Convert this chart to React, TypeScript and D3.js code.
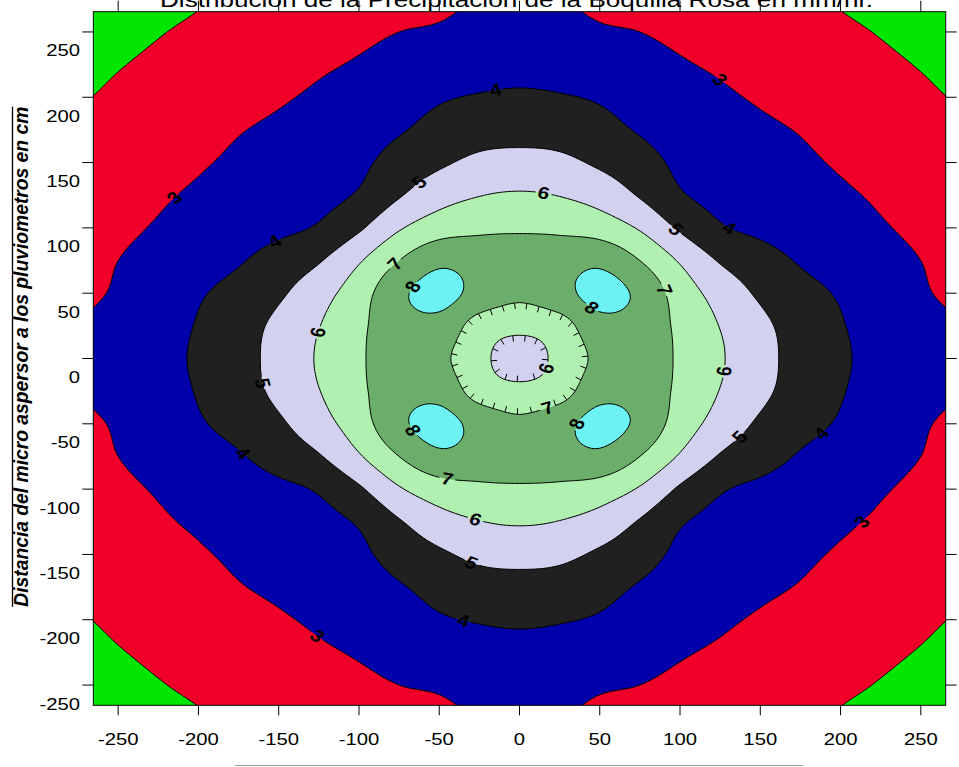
import React, { useMemo } from "react";
import * as d3 from "d3";

// Grid node positions in cm (columns west -> east, rows north -> south)
const gridX = [-275, -250, -225, -200, -175, -150, -125, -100, -75, -50, -25, 0, 25, 50, 75, 100, 125, 150, 175, 200, 225, 250, 275];
const gridY = [275, 250, 225, 200, 175, 150, 125, 100, 75, 50, 25, 0, -25, -50, -75, -100, -125, -150, -175, -200, -225, -250, -275];

// Precipitation (mm/hr) at each grid node, one row per gridY entry
const precip = [
  [1.4, 1.58, 1.77, 1.95, 2.12, 2.23, 2.42, 2.6, 2.75, 2.82, 3.04, 3.12, 3.04, 2.82, 2.75, 2.6, 2.42, 2.23, 2.12, 1.95, 1.77, 1.58, 1.4],
  [1.58, 1.77, 1.96, 2.14, 2.33, 2.46, 2.65, 2.83, 3.0, 3.1, 3.34, 3.42, 3.34, 3.1, 3.0, 2.83, 2.65, 2.46, 2.33, 2.14, 1.96, 1.77, 1.58],
  [1.77, 1.96, 2.15, 2.34, 2.53, 2.72, 2.9, 3.07, 3.3, 3.5, 3.66, 3.72, 3.66, 3.5, 3.3, 3.07, 2.9, 2.72, 2.53, 2.34, 2.15, 1.96, 1.77],
  [1.95, 2.14, 2.34, 2.53, 2.73, 2.92, 3.11, 3.31, 3.63, 3.91, 4.06, 4.13, 4.06, 3.91, 3.63, 3.31, 3.11, 2.92, 2.73, 2.53, 2.34, 2.14, 1.95],
  [2.12, 2.33, 2.53, 2.73, 2.96, 3.14, 3.33, 3.55, 3.92, 4.3, 4.6, 4.68, 4.6, 4.3, 3.92, 3.55, 3.33, 3.14, 2.96, 2.73, 2.53, 2.33, 2.12],
  [2.23, 2.46, 2.72, 2.92, 3.14, 3.35, 3.55, 3.8, 4.4, 4.85, 5.22, 5.3, 5.22, 4.85, 4.4, 3.8, 3.55, 3.35, 3.14, 2.92, 2.72, 2.46, 2.23],
  [2.42, 2.65, 2.9, 3.11, 3.33, 3.55, 3.72, 4.1, 4.92, 5.6, 5.97, 6.1, 5.97, 5.6, 4.92, 4.1, 3.72, 3.55, 3.33, 3.11, 2.9, 2.65, 2.42],
  [2.6, 2.83, 3.07, 3.31, 3.55, 3.8, 4.1, 4.86, 5.9, 6.55, 6.8, 6.87, 6.8, 6.55, 5.9, 4.86, 4.1, 3.8, 3.55, 3.31, 3.07, 2.83, 2.6],
  [2.75, 3.0, 3.3, 3.63, 3.92, 4.4, 4.92, 5.9, 7.0, 7.78, 7.6, 7.5, 7.6, 7.78, 7.0, 5.9, 4.92, 4.4, 3.92, 3.63, 3.3, 3.0, 2.75],
  [2.82, 3.1, 3.5, 3.91, 4.3, 4.85, 5.6, 6.55, 7.78, 8.35, 7.65, 7.2, 7.65, 8.35, 7.78, 6.55, 5.6, 4.85, 4.3, 3.91, 3.5, 3.1, 2.82],
  [3.04, 3.34, 3.66, 4.06, 4.6, 5.22, 5.97, 6.8, 7.6, 7.65, 6.6, 6.35, 6.6, 7.65, 7.6, 6.8, 5.97, 5.22, 4.6, 4.06, 3.66, 3.34, 3.04],
  [3.12, 3.42, 3.72, 4.13, 4.68, 5.3, 6.1, 6.87, 7.5, 7.2, 6.35, 5.3, 6.35, 7.2, 7.5, 6.87, 6.1, 5.3, 4.68, 4.13, 3.72, 3.42, 3.12],
  [3.04, 3.34, 3.66, 4.06, 4.6, 5.22, 5.97, 6.8, 7.6, 7.65, 6.6, 6.35, 6.6, 7.65, 7.6, 6.8, 5.97, 5.22, 4.6, 4.06, 3.66, 3.34, 3.04],
  [2.82, 3.1, 3.5, 3.91, 4.3, 4.85, 5.6, 6.55, 7.78, 8.35, 7.65, 7.2, 7.65, 8.35, 7.78, 6.55, 5.6, 4.85, 4.3, 3.91, 3.5, 3.1, 2.82],
  [2.75, 3.0, 3.3, 3.63, 3.92, 4.4, 4.92, 5.9, 7.0, 7.78, 7.6, 7.5, 7.6, 7.78, 7.0, 5.9, 4.92, 4.4, 3.92, 3.63, 3.3, 3.0, 2.75],
  [2.6, 2.83, 3.07, 3.31, 3.55, 3.8, 4.1, 4.86, 5.9, 6.55, 6.8, 6.87, 6.8, 6.55, 5.9, 4.86, 4.1, 3.8, 3.55, 3.31, 3.07, 2.83, 2.6],
  [2.42, 2.65, 2.9, 3.11, 3.33, 3.55, 3.72, 4.1, 4.92, 5.6, 5.97, 6.1, 5.97, 5.6, 4.92, 4.1, 3.72, 3.55, 3.33, 3.11, 2.9, 2.65, 2.42],
  [2.23, 2.46, 2.72, 2.92, 3.14, 3.35, 3.55, 3.8, 4.4, 4.85, 5.22, 5.3, 5.22, 4.85, 4.4, 3.8, 3.55, 3.35, 3.14, 2.92, 2.72, 2.46, 2.23],
  [2.12, 2.33, 2.53, 2.73, 2.96, 3.14, 3.33, 3.55, 3.92, 4.3, 4.6, 4.68, 4.6, 4.3, 3.92, 3.55, 3.33, 3.14, 2.96, 2.73, 2.53, 2.33, 2.12],
  [1.95, 2.14, 2.34, 2.53, 2.73, 2.92, 3.11, 3.31, 3.63, 3.91, 4.06, 4.13, 4.06, 3.91, 3.63, 3.31, 3.11, 2.92, 2.73, 2.53, 2.34, 2.14, 1.95],
  [1.77, 1.96, 2.15, 2.34, 2.53, 2.72, 2.9, 3.07, 3.3, 3.5, 3.66, 3.72, 3.66, 3.5, 3.3, 3.07, 2.9, 2.72, 2.53, 2.34, 2.15, 1.96, 1.77],
  [1.58, 1.77, 1.96, 2.14, 2.33, 2.46, 2.65, 2.83, 3.0, 3.1, 3.34, 3.42, 3.34, 3.1, 3.0, 2.83, 2.65, 2.46, 2.33, 2.14, 1.96, 1.77, 1.58],
  [1.4, 1.58, 1.77, 1.95, 2.12, 2.23, 2.42, 2.6, 2.75, 2.82, 3.04, 3.12, 3.04, 2.82, 2.75, 2.6, 2.42, 2.23, 2.12, 1.95, 1.77, 1.58, 1.4],
];

// Contour levels (mm/hr)
const contourLevels = [2, 3, 4, 5, 6, 7, 8];

// Contour label anchors: level and approximate location in cm
const labelLevel = [3, 3, 3, 3, 4, 4, 4, 4, 4, 4, 5, 5, 5, 5, 5, 6, 6, 6, 6, 6, 7, 7, 7, 7, 8, 8, 8, 8];
const labelX = [124.9, -214.5, 212.1, -125.5, -14, -152.3, 131.1, -174.1, 187.1, -35.8, -64.5, 96.8, -161, 137.9, -30.8, 13.8, -126.1, 127.2, -26.9, 16.5, -77.7, 90.4, -44.5, 16.5, -66.9, 45, -67.4, 35.6];
const labelY = [213.2, 123.6, -123.6, -212.4, 204, 89.2, 98.4, -73.9, -56.3, -200.2, 136.6, 98.9, -18.8, -60.9, -155, 126.7, 19.5, -8.6, -124.2, -6.9, 72.1, 51.4, -92, -36.7, 56.8, 38.7, -55.3, -50.1];

const axisTicks = [-250, -200, -150, -100, -50, 0, 50, 100, 150, 200, 250];

const titleText = "Distribución de la Precipitación de la Boquilla Rosa en mm/hr.";
const yTitleText = "Distancia del micro aspersor a los pluviometros en cm";

// Styling
const W = 959;
const H = 767;
const PLOT = { left: 93.3, right: 945.7, top: 11.7, bottom: 705.3 };
const DOMAIN: [number, number] = [-265.5, 265.5];
const SX = 1.23; // horizontal stretch of the lettering
const FONT = "'Liberation Sans', Arial, Helvetica, sans-serif";
const belowColor = "#00e600";
const bandColors = ["#f00028", "#0000aa", "#202020", "#d2d2f0", "#b0f0b0", "#6bae6b", "#6cf2f2"];

function catmullRom(p0: number, p1: number, p2: number, p3: number, t: number) {
  return p1 + 0.5 * t * (p2 - p0 + t * (2 * p0 - 5 * p1 + 4 * p2 - p3 + t * (3 * (p1 - p2) + p3 - p0)));
}

export default function App() {
  const xs = d3.scaleLinear().domain(DOMAIN).range([PLOT.left, PLOT.right]);
  const ys = d3.scaleLinear().domain(DOMAIN).range([PLOT.bottom, PLOT.top]);

  const model = useMemo(() => {
    const sub = 10;
    const nx = gridX.length;
    const ny = gridY.length;
    const fw = (nx - 1) * sub + 1;
    const fh = (ny - 1) * sub + 1;
    const clampI = (k: number, n: number) => Math.max(0, Math.min(n - 1, k));
    const sample = (gx: number, gy: number) => {
      const ix = Math.min(Math.floor(gx), nx - 2);
      const iy = Math.min(Math.floor(gy), ny - 2);
      const tx = gx - ix;
      const ty = gy - iy;
      const col: number[] = [];
      for (let m = -1; m <= 2; m++) {
        const row = precip[clampI(iy + m, ny)];
        col.push(catmullRom(row[clampI(ix - 1, nx)], row[ix], row[ix + 1], row[clampI(ix + 2, nx)], tx));
      }
      return catmullRom(col[0], col[1], col[2], col[3], ty);
    };
    const values: number[] = new Array(fw * fh);
    for (let j = 0; j < fh; j++) for (let i = 0; i < fw; i++) values[j * fw + i] = sample(i / sub, j / sub);

    const du = (gridX[1] - gridX[0]) / sub;
    const dv = (gridY[1] - gridY[0]) / sub;
    const toPx = (c: number[]) => [xs(gridX[0] + (c[0] - 0.5) * du), ys(gridY[0] + (c[1] - 0.5) * dv)];

    const bands = d3.contours().size([fw, fh]).thresholds(contourLevels)(values);
    const polys = bands.map((b: any) => b.coordinates.map((poly: number[][][]) => poly.map((ring) => ring.map(toPx))));

    const line = d3.line();
    const paths = polys.map((mp: number[][][][]) =>
      mp.map((poly) => poly.map((ring) => line(ring as any) + "Z").join("")).join("")
    );

    // hachures on closed depressions (holes): short ticks pointing downhill
    const hachures: number[][] = [];
    const spacing = 12.5;
    const tickLen = 6;
    polys.forEach((mp: number[][][][]) => {
      mp.forEach((poly) => {
        poly.slice(1).forEach((ring) => {
          let area = 0;
          for (let i = 0; i < ring.length - 1; i++) area += ring[i][0] * ring[i + 1][1] - ring[i + 1][0] * ring[i][1];
          const sgn = area > 0 ? 1 : -1;
          let acc = spacing / 2;
          for (let i = 0; i < ring.length - 1; i++) {
            const [x0, y0] = ring[i];
            const [x1, y1] = ring[i + 1];
            const len = Math.hypot(x1 - x0, y1 - y0);
            if (len === 0) continue;
            const ux = (x1 - x0) / len;
            const uy = (y1 - y0) / len;
            const nxv = -uy * sgn;
            const nyv = ux * sgn;
            while (acc <= len) {
              const px = x0 + ux * acc;
              const py = y0 + uy * acc;
              hachures.push([px, py, px + nxv * tickLen, py + nyv * tickLen]);
              acc += spacing;
            }
            acc -= len;
          }
        });
      });
    });

    // contour labels snapped onto their line, rotated along it
    const labels = labelLevel.map((lev, k) => {
      const li = contourLevels.indexOf(lev);
      const tx = xs(labelX[k]);
      const ty = ys(labelY[k]);
      let best = { d: Infinity, ring: [] as number[][], i: 0 };
      polys[li].forEach((poly: number[][][]) =>
        poly.forEach((ring) =>
          ring.forEach((p, i) => {
            const d = (p[0] - tx) ** 2 + (p[1] - ty) ** 2;
            if (d < best.d) best = { d, ring, i };
          })
        )
      );
      const r = best.ring;
      const n = r.length - 1;
      const a = r[(best.i - 3 + n) % n];
      const b = r[(best.i + 3) % n];
      let ang = (Math.atan2(b[1] - a[1], (b[0] - a[0]) / SX) * 180) / Math.PI;
      if (ang > 90) ang -= 180;
      if (ang <= -90) ang += 180;
      return { x: r[best.i][0], y: r[best.i][1], ang, text: String(lev) };
    });

    return { paths, hachures, labels };
  }, []);

  const labelTransform = (l: { x: number; y: number; ang: number }) =>
    `translate(${l.x},${l.y}) scale(${SX},1) rotate(${l.ang})`;

  return (
    <svg
      width={W}
      height={H}
      viewBox={`0 0 ${W} ${H}`}
      style={{ position: "absolute", left: 0, top: 0, display: "block", background: "#fff" }}
      fontFamily={FONT}
    >
      <defs>
        <clipPath id="plotClip">
          <rect x={PLOT.left} y={PLOT.top} width={PLOT.right - PLOT.left} height={PLOT.bottom - PLOT.top} />
        </clipPath>
        <mask id="labelGaps" maskUnits="userSpaceOnUse" x={0} y={0} width={W} height={H}>
          <rect x={0} y={0} width={W} height={H} fill="white" />
          {model.labels.map((l, i) => (
            <rect key={i} transform={labelTransform(l)} x={-6.5} y={-8} width={13} height={16} fill="black" />
          ))}
        </mask>
      </defs>

      <g clipPath="url(#plotClip)">
        <rect x={PLOT.left} y={PLOT.top} width={PLOT.right - PLOT.left} height={PLOT.bottom - PLOT.top} fill={belowColor} />
        {model.paths.map((d, i) => (
          <path key={i} d={d} fill={bandColors[i]} fillRule="evenodd" stroke="none" />
        ))}
        <g mask="url(#labelGaps)">
          {model.paths.map((d, i) => (
            <path key={i} d={d} fill="none" stroke="#000" strokeWidth={1} strokeLinejoin="round" />
          ))}
          {model.hachures.map((h, i) => (
            <line key={i} x1={h[0]} y1={h[1]} x2={h[2]} y2={h[3]} stroke="#000" strokeWidth={1} />
          ))}
        </g>
        {model.labels.map((l, i) => (
          <text
            key={i}
            transform={labelTransform(l)}
            textAnchor="middle"
            dominantBaseline="central"
            fontSize={17}
            fontWeight="bold"
            fill="#000"
          >
            {l.text}
          </text>
        ))}
      </g>

      <rect
        x={PLOT.left}
        y={PLOT.top}
        width={PLOT.right - PLOT.left}
        height={PLOT.bottom - PLOT.top}
        fill="none"
        stroke="#000"
        strokeWidth={1}
      />

      {/* ticks on all four sides, pointing outward */}
      {axisTicks.map((t) => (
        <g key={"t" + t} stroke="#000" strokeWidth={1}>
          <line x1={xs(t)} x2={xs(t)} y1={PLOT.top} y2={PLOT.top - 11} />
          <line x1={xs(t)} x2={xs(t)} y1={PLOT.bottom} y2={PLOT.bottom + 10} />
          <line x1={PLOT.left} x2={PLOT.left - 11} y1={ys(t)} y2={ys(t)} />
          <line x1={PLOT.right} x2={PLOT.right + 11} y1={ys(t)} y2={ys(t)} />
        </g>
      ))}

      {axisTicks.map((t) => (
        <text key={"xl" + t} transform={`translate(${xs(t)},745) scale(${SX},1)`} textAnchor="middle" fontSize={16.5} fill="#000">
          {t}
        </text>
      ))}
      {axisTicks.map((t) => (
        <text key={"yl" + t} transform={`translate(80,${ys(t) + 24.5}) scale(${SX},1)`} textAnchor="end" fontSize={16.5} fill="#000">
          {t}
        </text>
      ))}

      <text x={160} y={6.5} fontSize={21} textLength={713} lengthAdjust="spacingAndGlyphs" fill="#000">
        {titleText}
      </text>

      <line x1={12.5} x2={12.5} y1={106.7} y2={606.7} stroke="#000" strokeWidth={1.3} />
      <text
        transform={`translate(28,356.7) scale(${SX},1) rotate(-90)`}
        textAnchor="middle"
        fontSize={17}
        fontWeight="bold"
        fontStyle="italic"
        textLength={500}
        lengthAdjust="spacingAndGlyphs"
        fill="#000"
      >
        {yTitleText}
      </text>

      <line x1={235} x2={803} y1={765.5} y2={765.5} stroke="#9a9a9a" strokeWidth={1.2} />
    </svg>
  );
}
